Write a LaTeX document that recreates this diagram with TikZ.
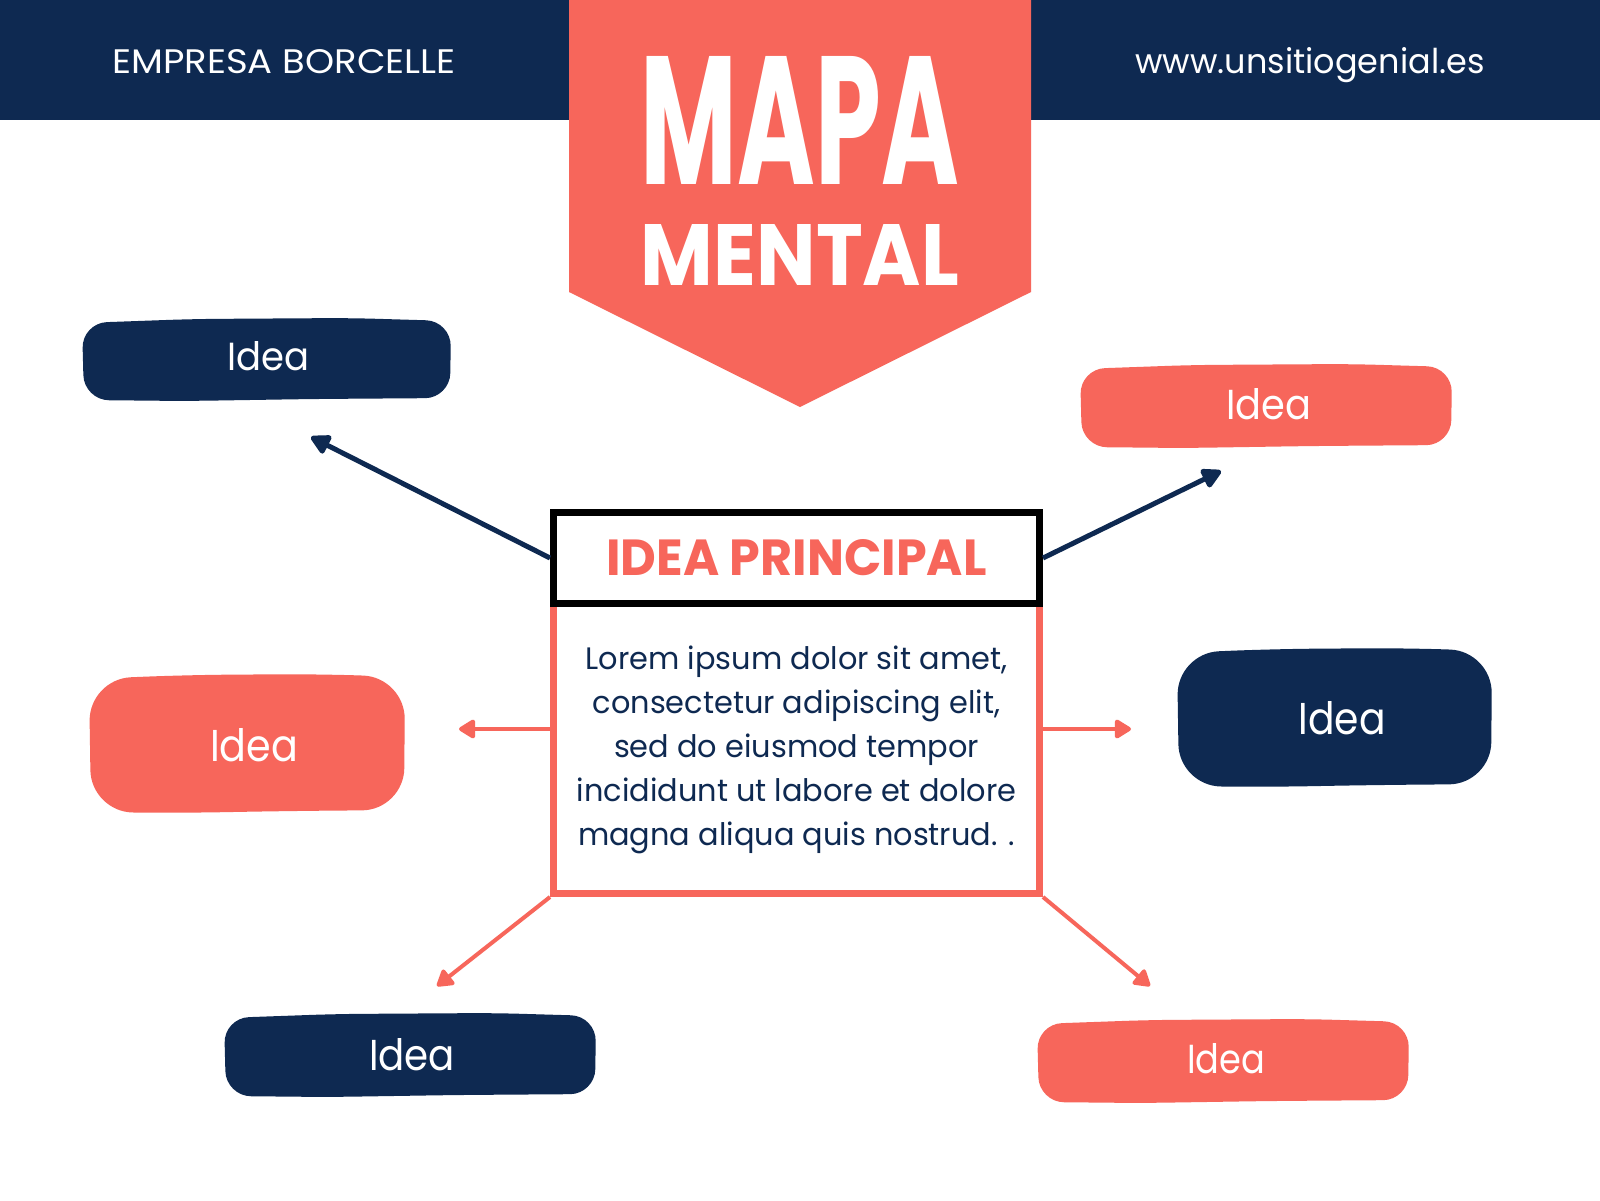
\documentclass[tikz,border=0pt]{standalone}
\usepackage{fontspec}
\setmainfont{Poppins}
\usepackage{graphicx}
\usetikzlibrary{arrows.meta}
\definecolor{navy}{HTML}{0E2951}
\definecolor{coral}{HTML}{F7665B}
% brush-like filled blob: colour, x1, y1, x2, y2, corner radius
\newcommand\brushblob[6]{%
  \pgfmathsetmacro\bw{#4-#2}%
  \fill[#1, rounded corners=#6]
    (#2,{#3+5}) -- ({#2+0.3*\bw},{#3+1}) -- ({#2+0.72*\bw},#3) -- ({#4-3},{#3+3})
    -- ({#4-4},{#5-3}) -- ({#2+0.62*\bw},{#5-2}) -- ({#2+0.28*\bw},#5) -- ({#2+2},{#5-1}) -- cycle;}
\begin{document}
\begin{tikzpicture}[x=1pt,y=-1pt,
  navyarr/.style={navy, line width=5pt, -{Triangle[length=22pt,width=22pt,round]}},
  coralarr/.style={coral, line width=4pt, -{Triangle[length=18pt,width=21pt,round]}},
  idealabel/.style={text=white, anchor=base, inner sep=0pt, outer sep=0pt},
  headtext/.style={text=white, anchor=base, inner sep=0pt, outer sep=0pt}]
\useasboundingbox (0,0) rectangle (1600,1200);
\fill[white] (0,0) rectangle (1600,1200);
% header
\fill[navy] (0,0) rectangle (1600,120);
\fill[coral] (569,0) -- (1031,0) -- (1031,292) -- (800,407) -- (569,292) -- cycle;
\node[headtext] (brand) at (284,73) {\resizebox{343pt}{24pt}{EMPRESA BORCELLE}};
\node[headtext] (web) at (1310,73) {\resizebox{349pt}{26pt}{www.unsitiogenial.es}};
\node[headtext] (mapa) at (800,184) {\resizebox{318pt}{128pt}{\bfseries MAPA}};
\node[headtext] (mental) at (800,285) {\resizebox{318pt}{61pt}{\bfseries MENTAL}};
% idea blobs
\brushblob{navy}{82}{318}{454}{401}{25}
\node[idealabel] (i1) at (268,370) {\resizebox{82pt}{29pt}{Idea}};
\brushblob{coral}{1080}{364}{1455}{448}{25}
\node[idealabel] (i2) at (1268.5,419) {\resizebox{85pt}{31pt}{Idea}};
\brushblob{coral}{89}{674}{408}{813}{42}
\node[idealabel] (i3) at (254,761) {\resizebox{88pt}{33pt}{Idea}};
\brushblob{navy}{1177}{648}{1495}{787}{42}
\node[idealabel] (i4) at (1342,734) {\resizebox{87pt}{33pt}{Idea}};
\brushblob{navy}{224}{1013}{599}{1097}{25}
\node[idealabel] (i5) at (412,1070) {\resizebox{86pt}{32pt}{Idea}};
\brushblob{coral}{1037}{1019}{1412}{1103}{25}
\node[idealabel] (i6) at (1226,1073) {\resizebox{78pt}{30pt}{Idea}};
% central boxes
\node[draw=coral, line width=7pt, minimum width=486pt, minimum height=290pt, inner sep=0pt, text=navy] (body) at (796.5,748.5)
  {\fontsize{31}{44}\selectfont\scalebox{0.98}[1]{\begin{tabular}{@{}c@{}}Lorem ipsum dolor sit amet,\\ consectetur adipiscing elit,\\ sed do eiusmod tempor\\ incididunt ut labore et dolore\\ magna aliqua quis nostrud. .\end{tabular}}};
\node[draw=black, fill=white, line width=7pt, minimum width=486pt, minimum height=91pt, inner sep=0pt, text=coral] (title) at (796.5,558)
  {\resizebox{380pt}{36pt}{\bfseries IDEA PRINCIPAL}};
% arrow tips
\coordinate (t1) at (311,437);
\coordinate (t2) at (1221,471);
\coordinate (t3) at (459,729);
\coordinate (t4) at (1131,729);
\coordinate (t5) at (437,986);
\coordinate (t6) at (1150,986);
\draw[navyarr] (title.west) -- (t1);
\draw[navyarr] (title.east) -- (t2);
\draw[coralarr] ([yshift=19.5pt]body.west) -- (t3);
\draw[coralarr] ([yshift=19.5pt]body.east) -- (t4);
\draw[coralarr] (body.south west) -- (t5);
\draw[coralarr] (body.south east) -- (t6);
\end{tikzpicture}
\end{document}
